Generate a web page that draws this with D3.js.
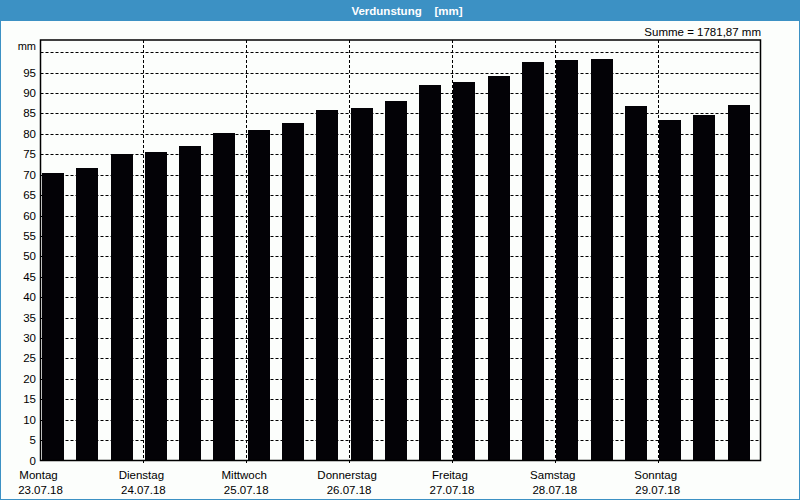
<!DOCTYPE html>
<html>
<head>
<meta charset="utf-8">
<script src="https://cdn.jsdelivr.net/npm/d3@7"></script>
<style>
	body { margin: 0; background: #fff; }
	svg text { font-family: Tahoma, "Liberation Sans", Arial, sans-serif; }
</style>
</head>
<body>
<svg id="chart" width="800" height="500"></svg>
<script>
"use strict";

// Verdunstung per 8h step, 3 bars a day
var values = [70.4, 71.7, 75.05, 75.6, 77.1, 80.25, 81.0, 82.7, 85.9, 86.4, 88.1,
	92.0, 92.8, 94.2, 97.7, 98.2, 98.4, 86.9, 83.5, 84.7, 87.1];
var dayNames = ['Montag', 'Dienstag', 'Mittwoch', 'Donnerstag', 'Freitag', 'Samstag', 'Sonntag'];
var dayDates = ['23.07.18', '24.07.18', '25.07.18', '26.07.18', '27.07.18', '28.07.18', '29.07.18'];
var yTicks = [0, 5, 10, 15, 20, 25, 30, 35, 40, 45, 50, 55, 60, 65, 70, 75, 80, 85, 90, 95];
var yGrid = [5, 10, 15, 20, 25, 30, 35, 40, 45, 50, 55, 60, 65, 70, 75, 80, 85, 90, 95, 100];
var title = 'Verdunstung\u00a0\u00a0\u00a0\u00a0[mm]';
var summe = 'Summe = 1781,87 mm';

var colors = {
	bar: '#030206',
	blue: '#3c91c4',
	bg: '#fcfefc',
	text: '#000'
};

var plot = { left: 40.5, right: 760.5, top: 40, bottom: 460.5 };

var svg = d3.select('#chart');

// background + frame of the window
svg.append('rect').attr('x', 0).attr('y', 0).attr('width', 800).attr('height', 500)
	.attr('fill', colors.bg);
svg.append('rect').attr('x', 0.5).attr('y', 0.5).attr('width', 799).attr('height', 499)
	.attr('fill', 'none').attr('stroke', colors.blue).attr('stroke-width', 1);
svg.append('rect').attr('x', 0).attr('y', 0).attr('width', 800).attr('height', 21)
	.attr('fill', colors.blue);
svg.append('text').attr('x', 407).attr('y', 15)
	.attr('text-anchor', 'middle').attr('fill', '#fff')
	.attr('font-size', 11.5).attr('font-weight', 'bold')
	.text(title);

var x = d3.scaleLinear().domain([0, values.length]).range([plot.left, plot.right]);
var xDay = d3.scaleLinear().domain([0, dayNames.length]).range([plot.left, plot.right]);
var y = d3.scaleLinear().domain([0, 103]).range([plot.bottom, plot.top]);

var barW = 22;

// grid
svg.append('g').selectAll('line').data(yGrid).join('line')
	.attr('x1', plot.left).attr('x2', plot.right)
	.attr('y1', function(d) { return Math.round(y(d)) + 0.5; })
	.attr('y2', function(d) { return Math.round(y(d)) + 0.5; })
	.attr('stroke', '#000').attr('stroke-dasharray', '3,2');

svg.append('g').selectAll('line').data(d3.range(1, dayNames.length)).join('line')
	.attr('x1', function(d) { return Math.round(xDay(d)) + 0.5; })
	.attr('x2', function(d) { return Math.round(xDay(d)) + 0.5; })
	.attr('y1', plot.top).attr('y2', plot.bottom + 3)
	.attr('stroke', '#000').attr('stroke-dasharray', '3,2');

// bars
svg.append('g').selectAll('rect').data(values).join('rect')
	.attr('x', function(d, i) { return Math.round(x(i) + 1.5); })
	.attr('y', function(d) { return Math.round(y(d)); })
	.attr('width', barW)
	.attr('height', function(d) { return Math.round(plot.bottom) - Math.round(y(d)); })
	.attr('fill', colors.bar);

// plot frame
svg.append('rect')
	.attr('x', plot.left).attr('y', plot.top)
	.attr('width', plot.right - plot.left).attr('height', plot.bottom - plot.top)
	.attr('fill', 'none').attr('stroke', '#000').attr('stroke-width', 1.5);

// y axis labels
svg.append('g').selectAll('text').data(yTicks).join('text')
	.attr('x', 36).attr('y', function(d) { return y(d) + 4; })
	.attr('text-anchor', 'end').attr('font-size', 11.5).attr('fill', colors.text)
	.text(function(d) { return d; });
svg.append('text').attr('x', 36).attr('y', 50)
	.attr('text-anchor', 'end').attr('font-size', 11).attr('fill', colors.text)
	.text('mm');

// x axis labels
var days = svg.append('g').selectAll('g').data(dayNames).join('g')
	.attr('transform', function(d, i) { return 'translate(' + xDay(i) + ',0)'; });
days.append('text').attr('x', -2).attr('y', 479).attr('text-anchor', 'middle')
	.attr('font-size', 11.5).attr('fill', colors.text)
	.text(function(d) { return d; });
days.append('text').attr('y', 494).attr('text-anchor', 'middle')
	.attr('font-size', 11.5).attr('fill', colors.text)
	.text(function(d, i) { return dayDates[i]; });

svg.append('text').attr('x', 761).attr('y', 36)
	.attr('text-anchor', 'end').attr('font-size', 11.5).attr('fill', colors.text)
	.text(summe);
</script>
</body>
</html>
